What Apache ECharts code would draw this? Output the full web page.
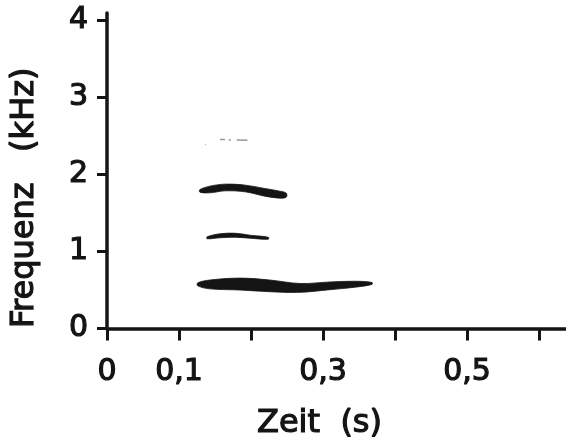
<!DOCTYPE html>
<html>
<head>
<meta charset="utf-8">
<script src="https://cdn.jsdelivr.net/npm/echarts@6/dist/echarts.min.js"></script>
<style>
  html, body { margin: 0; padding: 0; background: #fff; }
  #chart { width: 566px; height: 439px; }
</style>
</head>
<body>
<div id="chart"></div>
<script>
// Achsen
const xTicks = [0, 0.1, 0.2, 0.3, 0.4, 0.5, 0.6];
const xLabels = [0, 0.1, 0.3, 0.5];
const yTicks = [0, 1, 2, 3, 4];

// Grundton (~0,55 kHz): Zeit, untere und obere Kante
const band1T  = [0.126, 0.143, 0.185, 0.226, 0.268, 0.310, 0.344, 0.368];
const band1Lo = [0.554, 0.515, 0.500, 0.478, 0.470, 0.505, 0.536, 0.573];
const band1Hi = [0.593, 0.630, 0.655, 0.630, 0.585, 0.605, 0.614, 0.599];

// 2. Harmonische (~1,2 kHz)
const band2T  = [0.139, 0.157, 0.178, 0.199, 0.224];
const band2Lo = [1.166, 1.179, 1.186, 1.173, 1.160];
const band2Hi = [1.192, 1.231, 1.238, 1.212, 1.186];

// 3. Harmonische (~1,8 kHz)
const band3T  = [0.129, 0.143, 0.164, 0.192, 0.219, 0.240, 0.249];
const band3Lo = [1.772, 1.763, 1.789, 1.776, 1.720, 1.694, 1.707];
const band3Hi = [1.805, 1.850, 1.876, 1.863, 1.820, 1.785, 1.759];

// schwache Spuren (~2,45 kHz), '-' = Lücke
const faintT = [0.136, 0.137, 0.138, 0.157, 0.164, 0.165, 0.169, 0.172, 0.173, 0.180, 0.195];
const faintF = [2.39, 2.39, '-', 2.455, 2.455, '-', 2.45, 2.45, '-', 2.45, 2.445];

const ink = '#141414';
const font = 'DejaVu Sans';
const txt = { fontFamily: font, color: ink, textBorderColor: ink, textBorderWidth: 1.2 };

// ein Band = eine geglättete Fläche zwischen Unter- und Oberkante
const renderBand = (params, api) => {
    if (params.dataIndexInside !== 0) return;
    const n = params.dataInsideLength;
    const top = [], bot = [];
    for (let j = 0; j < n; j++) {
        top.push(api.coord([api.value(0, j), api.value(2, j)]));
        bot.push(api.coord([api.value(0, j), api.value(1, j)]));
    }
    return {
        type: 'polygon',
        shape: { points: top.concat(bot.reverse()), smooth: 0.35 },
        style: { fill: ink, stroke: ink, lineWidth: 0.8 }
    };
};

const bandSeries = (t, lo, hi) => ({
    type: 'custom',
    silent: true,
    renderItem: renderBand,
    encode: { x: 0, y: [1, 2] },
    data: t.map((v, i) => [v, lo[i], hi[i]])
});

const chart = echarts.init(document.getElementById('chart'));

chart.setOption({
    animation: false,
    grid: { left: 107, right: 0, top: 13, bottom: 110.5, outerBoundsMode: 'none' },
    xAxis: {
        type: 'value',
        min: 0,
        max: 0.6375,
        name: 'Zeit  (s)',
        nameLocation: 'middle',
        nameGap: 79,
        nameTextStyle: { ...txt, fontSize: 32, padding: [0, 34, 0, 0] },
        axisLine: { onZero: false, lineStyle: { color: ink, width: 3.5 } },
        axisTick: { customValues: xTicks, length: 12, lineStyle: { color: ink, width: 3 } },
        axisLabel: {
            ...txt,
            customValues: xLabels,
            margin: 29,
            fontSize: 30,
            formatter: v => String(v).replace('.', ',')
        },
        splitLine: { show: false }
    },
    yAxis: {
        type: 'value',
        min: 0,
        max: 4.1,
        name: 'Frequenz   (kHz)',
        nameLocation: 'middle',
        nameGap: 66,
        nameTextStyle: { ...txt, fontSize: 32, padding: [0, 54, 0, 0] },
        axisLine: { show: true, onZero: false, lineStyle: { color: ink, width: 3.5 } },
        axisTick: { show: true, customValues: yTicks, length: 10, lineStyle: { color: ink, width: 3 } },
        axisLabel: { ...txt, customValues: yTicks, margin: 19, fontSize: 30 },
        splitLine: { show: false }
    },
    series: [
        bandSeries(band1T, band1Lo, band1Hi),
        bandSeries(band2T, band2Lo, band2Hi),
        bandSeries(band3T, band3Lo, band3Hi),
        {
            type: 'line', symbol: 'none', silent: true, connectNulls: false,
            lineStyle: { color: '#9a9a9a', width: 1.5 },
            data: faintT.map((v, i) => [v, faintF[i]])
        }
    ]
});
</script>
</body>
</html>
